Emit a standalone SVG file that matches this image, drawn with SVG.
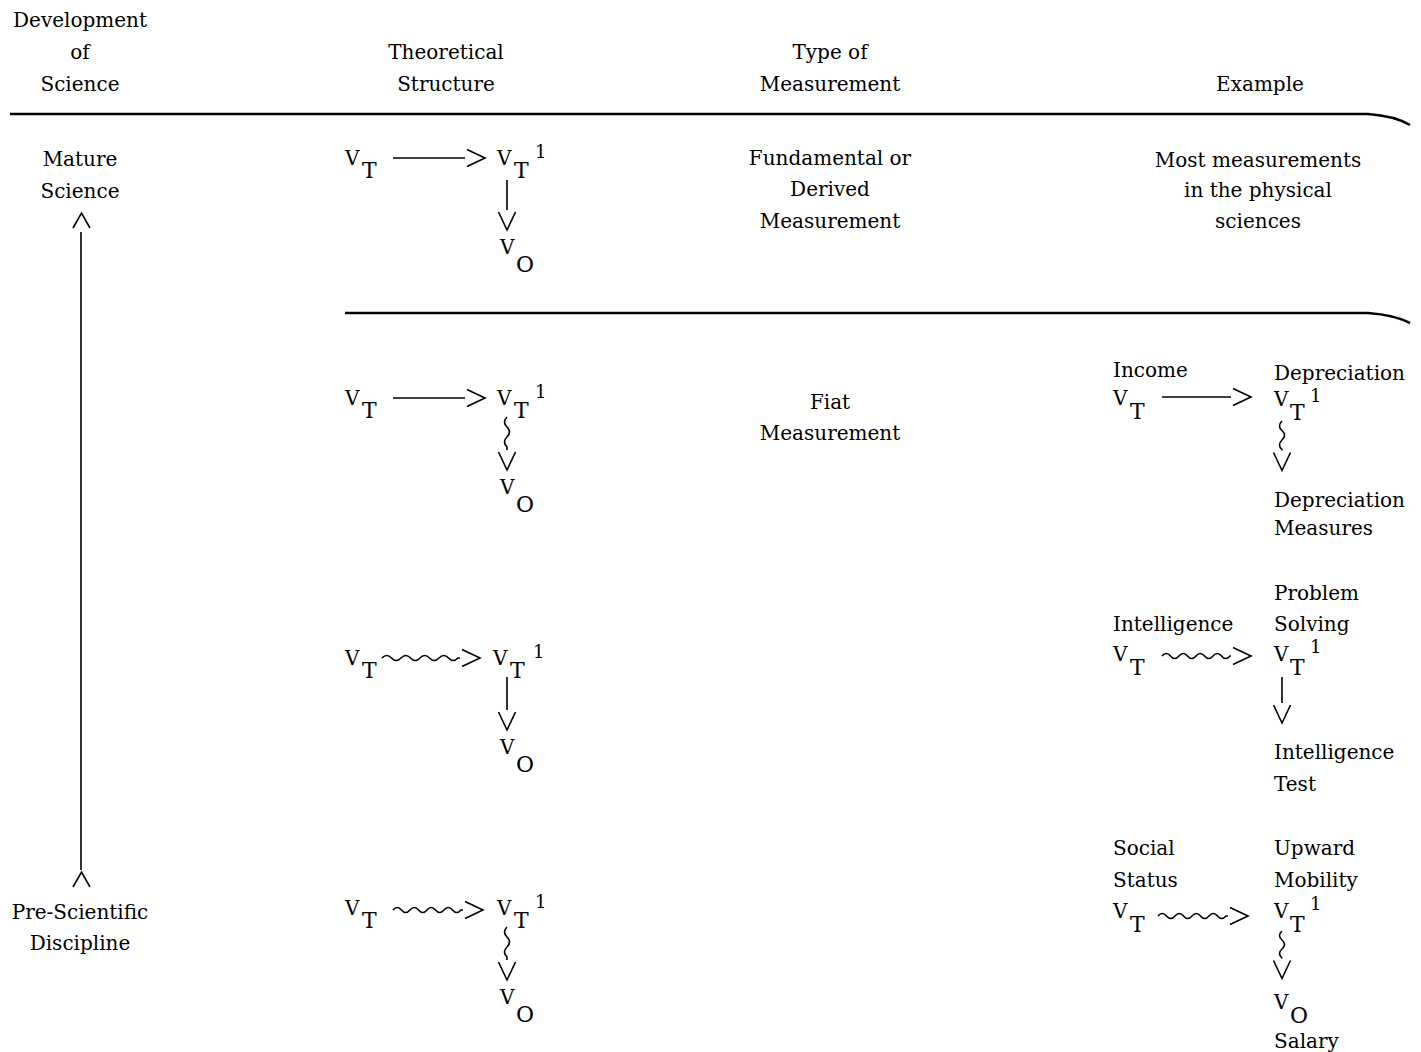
<svg xmlns="http://www.w3.org/2000/svg" width="1421" height="1052" viewBox="0 0 1421 1052">
<defs>
<style>
text{font-family:"DejaVu Serif","Liberation Serif",serif;fill:#000}
.t{font-size:20px}
.c{text-anchor:middle}
.v{font-size:20px}
.s{font-size:22px}
.sup{font-size:18px}
.ln{fill:none;stroke:#000;stroke-width:1.6}
.rule{fill:none;stroke:#000;stroke-width:2.6}
.arr{marker-end:url(#chev)}
</style>
<marker id="chev" markerUnits="userSpaceOnUse" markerWidth="30" markerHeight="30" refX="-2" refY="9" orient="auto" overflow="visible">
<path d="M0,0.5 L18,9 L0,17.5" fill="none" stroke="#000" stroke-width="1.6"/>
</marker>
</defs>
<rect width="1421" height="1052" fill="#fff"/>

<g id="headers">
<text class="t c" x="80" y="27">Development</text>
<text class="t c" x="80" y="59">of</text>
<text class="t c" x="80" y="91">Science</text>
<text class="t c" x="446" y="59">Theoretical</text>
<text class="t c" x="446" y="91">Structure</text>
<text class="t c" x="830" y="59">Type of</text>
<text class="t c" x="830" y="91">Measurement</text>
<text class="t c" x="1260" y="91">Example</text>
</g>

<g id="rules">
<path class="rule" d="M10,114 L1368,114 Q1395,116 1410,125"/>
<path class="rule" d="M345,313 L1368,313 Q1395,315 1410,323"/>
</g>

<g id="development-axis">
<text class="t c" x="80" y="166">Mature</text>
<text class="t c" x="80" y="198">Science</text>
<text class="t c" x="80" y="919">Pre-Scientific</text>
<text class="t c" x="80" y="950">Discipline</text>
</g>

<g id="connectors">
<path class="ln" d="M81,232 L81,870"/>
<path class="ln" d="M73,228 L81.5,213 L90,228"/>
<path class="ln" d="M73,887 L81.5,872 L90,887"/>
<path class="ln arr" d="M393,158 L465,158"/>
<path class="ln arr" d="M507,180 L507,210"/>
<path class="ln arr" d="M393,398 L465,398"/>
<path class="ln arr" d="M507,417 q-5,5 0,10 t0,10 t0,10 l0,3"/>
<path class="ln arr" d="M382,658 q4.75,-5 9.5,0 t9.5,0 t9.5,0 t9.5,0 t9.5,0 t9.5,0 t9.5,0 t9.5,0 l2,0"/>
<path class="ln arr" d="M507,677 L507,710"/>
<path class="ln arr" d="M393,910 q4.25,-5 8.5,0 t8.5,0 t8.5,0 t8.5,0 t8.5,0 t8.5,0 t8.5,0 t8.5,0 l2,0"/>
<path class="ln arr" d="M507,927 q-5,5 0,10 t0,10 t0,10 l0,3"/>
<path class="ln arr" d="M1162,397 L1231,397"/>
<path class="ln arr" d="M1282,421 q-5,5 0,9.5 t0,9.5 t0,9.5 l0,1"/>
<path class="ln arr" d="M1162,656 q4.25,-5 8.5,0 t8.5,0 t8.5,0 t8.5,0 t8.5,0 t8.5,0 t8.5,0 t8.5,0 l1,0"/>
<path class="ln arr" d="M1282,677 L1282,703"/>
<path class="ln arr" d="M1158,916 q4.25,-5 8.5,0 t8.5,0 t8.5,0 t8.5,0 t8.5,0 t8.5,0 t8.5,0 t8.5,0 l2,0"/>
<path class="ln arr" d="M1282,931 q-5,4.5 0,9 t0,9 t0,9 l0,0.5"/>
</g>

<g id="block1">
<text class="v" x="345" y="165">V</text><text class="s" x="362" y="178">T</text>
<text class="v" x="497" y="165">V</text><text class="s" x="514" y="178">T</text><text class="sup" x="535" y="158">1</text>
<text class="v" x="500" y="254">V</text><text class="s" x="516" y="272">O</text>
</g>

<g id="block2">
<text class="v" x="345" y="405">V</text><text class="s" x="362" y="418">T</text>
<text class="v" x="497" y="405">V</text><text class="s" x="514" y="418">T</text><text class="sup" x="535" y="398">1</text>
<text class="v" x="500" y="494">V</text><text class="s" x="516" y="512">O</text>
</g>

<g id="block3">
<text class="v" x="345" y="665">V</text><text class="s" x="362" y="678">T</text>
<text class="v" x="493" y="665">V</text><text class="s" x="510" y="678">T</text><text class="sup" x="533" y="658">1</text>
<text class="v" x="500" y="754">V</text><text class="s" x="516" y="772">O</text>
</g>

<g id="block4">
<text class="v" x="345" y="915">V</text><text class="s" x="362" y="928">T</text>
<text class="v" x="497" y="915">V</text><text class="s" x="514" y="928">T</text><text class="sup" x="535" y="908">1</text>
<text class="v" x="500" y="1004">V</text><text class="s" x="516" y="1022">O</text>
</g>

<g id="measurement-types">
<text class="t c" x="830" y="165">Fundamental or</text>
<text class="t c" x="830" y="196">Derived</text>
<text class="t c" x="830" y="228">Measurement</text>
<text class="t c" x="830" y="409">Fiat</text>
<text class="t c" x="830" y="440">Measurement</text>
</g>

<g id="example-physical">
<text class="t c" x="1258" y="167">Most measurements</text>
<text class="t c" x="1258" y="197">in the physical</text>
<text class="t c" x="1258" y="228">sciences</text>
</g>

<g id="example-income">
<text class="t" x="1113" y="377">Income</text>
<text class="v" x="1113" y="405">V</text><text class="s" x="1130" y="419">T</text>
<text class="t" x="1274" y="380">Depreciation</text>
<text class="v" x="1274" y="406">V</text><text class="s" x="1290" y="420">T</text><text class="sup" x="1310" y="402">1</text>
<text class="t" x="1274" y="507">Depreciation</text>
<text class="t" x="1274" y="535">Measures</text>
</g>

<g id="example-intelligence">
<text class="t" x="1274" y="600">Problem</text>
<text class="t" x="1113" y="631">Intelligence</text>
<text class="t" x="1274" y="631">Solving</text>
<text class="v" x="1113" y="661">V</text><text class="s" x="1130" y="675">T</text>
<text class="v" x="1274" y="661">V</text><text class="s" x="1290" y="675">T</text><text class="sup" x="1310" y="653">1</text>
<text class="t" x="1274" y="759">Intelligence</text>
<text class="t" x="1274" y="791">Test</text>
</g>

<g id="example-social">
<text class="t" x="1113" y="855">Social</text>
<text class="t" x="1113" y="887">Status</text>
<text class="t" x="1274" y="855">Upward</text>
<text class="t" x="1274" y="887">Mobility</text>
<text class="v" x="1113" y="918">V</text><text class="s" x="1130" y="932">T</text>
<text class="v" x="1274" y="918">V</text><text class="s" x="1290" y="932">T</text><text class="sup" x="1310" y="910">1</text>
<text class="v" x="1274" y="1009">V</text><text class="s" x="1290" y="1023">O</text>
<text class="t" x="1274" y="1048">Salary</text>
</g>
</svg>
